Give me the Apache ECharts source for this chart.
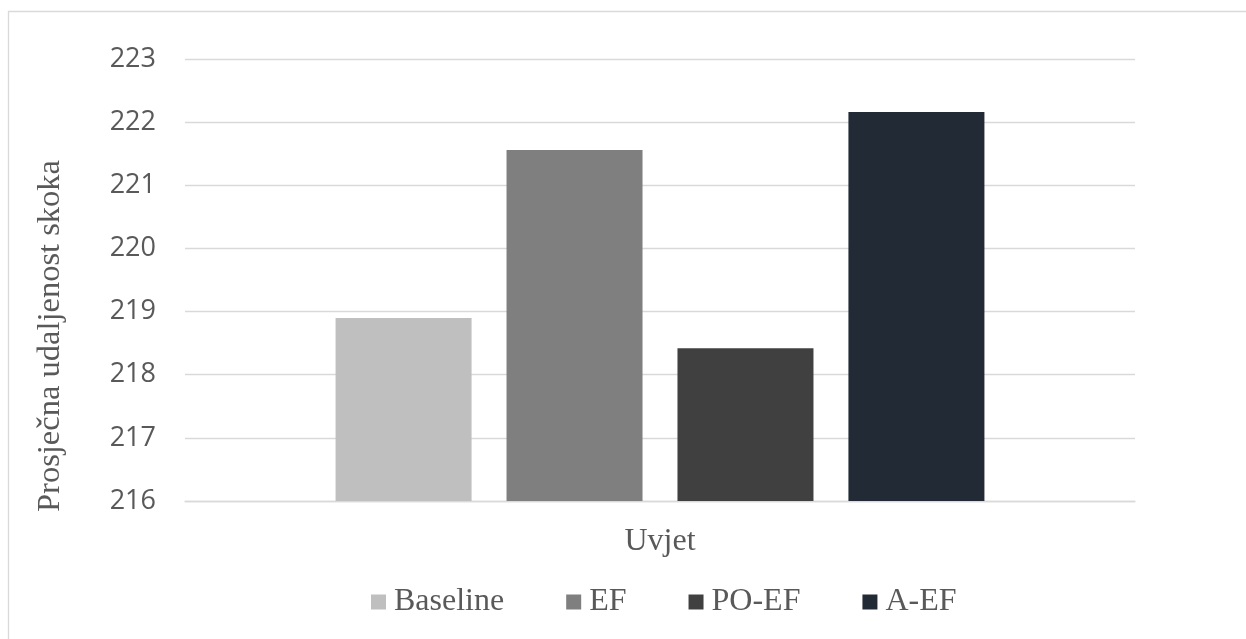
<!DOCTYPE html>
<html>
<head>
<meta charset="utf-8">
<script src="https://cdn.jsdelivr.net/npm/echarts@6/dist/echarts.min.js"></script>
<style>
html,body{margin:0;padding:0;background:#fff;}
#chart{width:1246px;height:639px;}
</style>
</head>
<body>
<div id="chart"></div>
<script>
const categories = [''];
const seriesNames = ['Baseline', 'EF', 'PO-EF', 'A-EF'];
const seriesValues = [218.90, 221.56, 218.42, 222.16];
const seriesColors = ['#bfbfbf', '#7f7f7f', '#404040', '#222a35'];
const yTitle = 'Prosječna udaljenost skoka';
const xTitle = 'Uvjet';

const chart = echarts.init(document.getElementById('chart'), null, {renderer: 'canvas'});
const serif = '"Liberation Serif", "Times New Roman", serif';
const option = {
  backgroundColor: '#ffffff',
  animation: false,
  graphic: [
    {type: 'rect', shape: {x: 8.5, y: 11.5, width: 1400, height: 800},
     style: {fill: 'none', stroke: '#d9d9d9', lineWidth: 1.3}, silent: true},
    {type: 'text', x: 50, y: 336, rotation: Math.PI / 2,
     style: {text: yTitle, font: '32.5px ' + serif, fill: '#595959',
             textAlign: 'center', textVerticalAlign: 'middle'}, silent: true}
  ],
  grid: {left: 185, right: 111, top: 59, bottom: 138, containLabel: false},
  legend: {
    data: seriesNames,
    bottom: 16,
    left: 366,
    itemWidth: 15,
    itemHeight: 15,
    itemGap: 62,
    icon: 'rect',
    textStyle: {fontFamily: serif, fontSize: 32, color: '#595959', padding: [0, 0, 0, 3]}
  },
  xAxis: {
    type: 'category',
    data: categories,
    name: xTitle,
    nameLocation: 'middle',
    nameGap: 25,
    nameTextStyle: {fontFamily: serif, fontSize: 32, color: '#595959', verticalAlign: 'top'},
    axisLine: {show: true, lineStyle: {color: '#d9d9d9', width: 1.3}},
    axisTick: {show: false},
    axisLabel: {show: false}
  },
  yAxis: {
    type: 'value',
    min: 216,
    max: 223,
    interval: 1,
    axisLine: {show: false},
    axisTick: {show: false},
    axisLabel: {fontFamily: '"Open Sans", sans-serif', fontSize: 27, color: '#595959', margin: 29},
    splitLine: {lineStyle: {color: '#d9d9d9', width: 1.3}}
  },
  series: seriesNames.map((name, i) => ({
    name: name,
    type: 'bar',
    data: [seriesValues[i]],
    barWidth: 136,
    barGap: '25.7%',
    itemStyle: {color: seriesColors[i]}
  }))
};
chart.setOption(option);
</script>
</body>
</html>
